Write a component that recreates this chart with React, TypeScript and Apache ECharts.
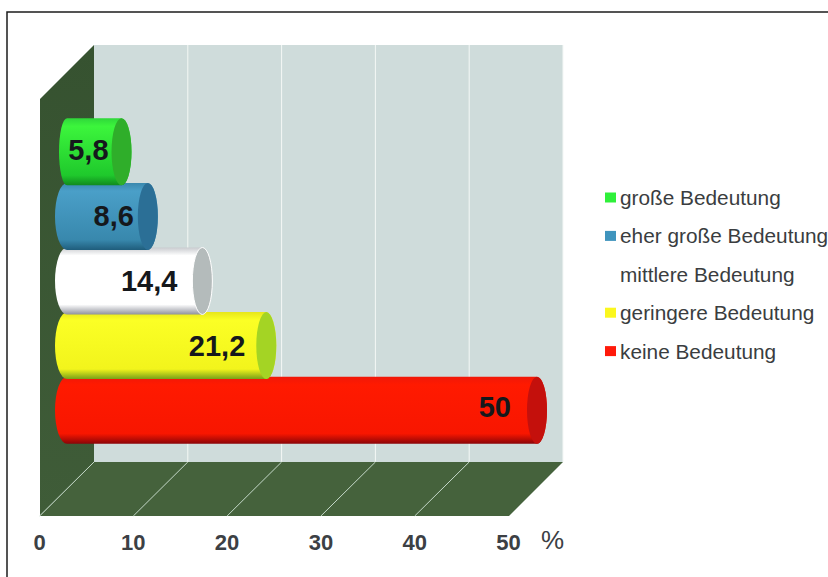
import React, { useEffect, useRef } from "react";
import * as echarts from "echarts";

const categories = ["große Bedeutung", "eher große Bedeutung", "mittlere Bedeutung", "geringere Bedeutung", "keine Bedeutung"];
const values = [5.8, 8.6, 14.4, 21.2, 50];
const valueLabels = ["5,8", "8,6", "14,4", "21,2", "50"];
const legendColors = ["#2ff03a", "#3f94bd", "#ffffff", "#fbf71e", "#ff1a0a"];
const bodyColors = [
  ["#2fd83a", "#3cf53c", "#1fc92c", "#118a1e"],
  ["#3a88ad", "#4a9fc8", "#3888ad", "#1f5d7c"],
  ["#c9cbcf", "#ffffff", "#ffffff", "#8f929c"],
  ["#e6e61a", "#fbff25", "#f2f41c", "#77a018"],
  ["#f01808", "#ff1a00", "#f81600", "#8a0408"],
];
const capColors = ["#2fae2a", "#2b6f96", "#b4bbbb", "#a4d424", "#c4100c"];
const labelInsets = [13, 14, 25, 21, 26];
const labelLifts = [2, 0, 0, 0, 3];
const leftRadii = [8, 12, 12, 12, 12];
const xTicks = [0, 10, 20, 30, 40, 50];

const DEPTH = 54.5;
const RX = 10;

function renderStructure(_: any, api: any) {
  const tick = api.value(0);
  const [x0, yBottom] = api.coord([tick, 0]);
  const children: any[] = [];
  if (tick > 0) {
    children.push({
      type: "line",
      shape: { x1: x0 + DEPTH, y1: 462, x2: x0 + DEPTH, y2: 45 },
      style: { stroke: "#f4f8f6", lineWidth: 1 },
    });
  }
  if (tick < 50) {
    children.push({
      type: "line",
      shape: { x1: x0, y1: yBottom, x2: x0 + DEPTH, y2: 462 },
      style: { stroke: "#c4d8c8", lineWidth: 1 },
    });
  }
  return { type: "group", children };
}

function cylinder(index: number) {
  return (_: any, api: any) => {
    const [xEnd, yc] = api.coord([api.value(0), api.value(1)]);
    const [xStart] = api.coord([0, api.value(1)]);
    const h = 33.5;
    const lr = leftRadii[index];
    const body = `M${xEnd} ${yc - h} L${xStart} ${yc - h} A${lr} ${h} 0 0 0 ${xStart} ${yc + h} L${xEnd} ${yc + h} A${RX} ${h} 0 0 0 ${xEnd} ${yc - h} Z`;
    const cap = `M${xEnd} ${yc - h} A${RX} ${h} 0 0 1 ${xEnd} ${yc + h} A${RX} ${h} 0 0 1 ${xEnd} ${yc - h} Z`;
    const c = bodyColors[index];
    return {
      type: "group",
      children: [
        {
          type: "path",
          shape: { pathData: body },
          style: {
            fill: new echarts.graphic.LinearGradient(0, 0, 0, 1, [
              { offset: 0, color: c[0] },
              { offset: 0.12, color: c[1] },
              { offset: 0.85, color: c[2] },
              { offset: 1, color: c[3] },
            ]),
          },
        },
        {
          type: "path",
          shape: { pathData: cap },
          style: { fill: capColors[index], stroke: index === 2 ? "#ffffff" : "none", lineWidth: 1 },
        },
        {
          type: "text",
          x: xEnd - labelInsets[index],
          y: yc - labelLifts[index],
          style: {
            text: valueLabels[index],
            align: "right",
            verticalAlign: "middle",
            fontFamily: "Liberation Sans",
            fontWeight: "bold",
            fontSize: 29,
            fill: "#15181c",
          },
        },
      ],
    };
  };
}

export default function App() {
  const ref = useRef<HTMLDivElement>(null);
  useEffect(() => {
    const chart = echarts.init(ref.current!, null, { renderer: "svg" });
    chart.setOption({
      animation: false,
      backgroundColor: "#ffffff",
      legend: {
        orient: "vertical",
        left: 605,
        top: 187,
        itemWidth: 11,
        itemHeight: 10,
        itemGap: 17.4,
        icon: "rect",
        padding: 0,
        data: categories,
        textStyle: { fontFamily: "Liberation Sans", fontSize: 20.8, color: "#3a3d40", padding: [0, 0, 0, -1] },
      },
      grid: [
        { left: 39.5, top: 99, width: 469, height: 417 },
        { left: 67, top: 119.5, width: 470, height: 323 },
      ],
      xAxis: [
        {
          type: "value",
          gridIndex: 0,
          min: 0,
          max: 50,
          interval: 10,
          axisLine: { show: false },
          axisTick: { show: false },
          splitLine: { show: false },
          axisLabel: {
            margin: 15,
            fontFamily: "Liberation Sans",
            fontWeight: "bold",
            fontSize: 22,
            color: "#3c4044",
          },
        },
        { type: "value", gridIndex: 1, min: 0, max: 50, show: false },
      ],
      yAxis: [
        { type: "value", gridIndex: 0, min: 0, max: 1, show: false },
        { type: "category", gridIndex: 1, inverse: true, data: categories, show: false },
      ],
      graphic: [
        { type: "rect", z: -10, shape: { x: 7, y: 12, width: 900, height: 700 }, style: { fill: "none", stroke: "#1c1c1c", lineWidth: 1.5 } },
        { type: "polygon", z: -9, shape: { points: [[94, 45], [563, 45], [563, 462], [94, 462]] }, style: { fill: "#cfdcdb" } },
        { type: "polygon", z: -9, shape: { points: [[40, 99], [94, 45], [94, 462], [40, 516]] }, style: { fill: new echarts.graphic.LinearGradient(0, 0, 0, 1, [{ offset: 0, color: "#365230" }, { offset: 1, color: "#3f5c38" }]) } },
        { type: "polygon", z: -9, shape: { points: [[40, 516], [94, 462], [563, 462], [509, 516]] }, style: { fill: "#45623c" } },
        { type: "text", x: 541, y: 527, style: { text: "%", fontFamily: "Liberation Sans", fontSize: 26, fill: "#3c4044" } },
      ],
      series: [
        {
          name: "Raster",
          type: "custom",
          xAxisIndex: 0,
          yAxisIndex: 0,
          silent: true,
          z: 1,
          clip: false,
          renderItem: renderStructure,
          data: xTicks.map((t) => [t]),
          encode: { x: 0 },
        },
        ...categories.map((name, i) => ({
          name,
          type: "custom",
          xAxisIndex: 1,
          yAxisIndex: 1,
          z: 10 - i,
          clip: false,
          itemStyle: { color: legendColors[i] },
          renderItem: cylinder(i),
          data: [[values[i], i]],
          encode: { x: 0, y: 1 },
        })),
      ],
    });
    return () => chart.dispose();
  }, []);
  return <div ref={ref} style={{ position: "absolute", left: 0, top: 0, width: 828, height: 577 }} />;
}
